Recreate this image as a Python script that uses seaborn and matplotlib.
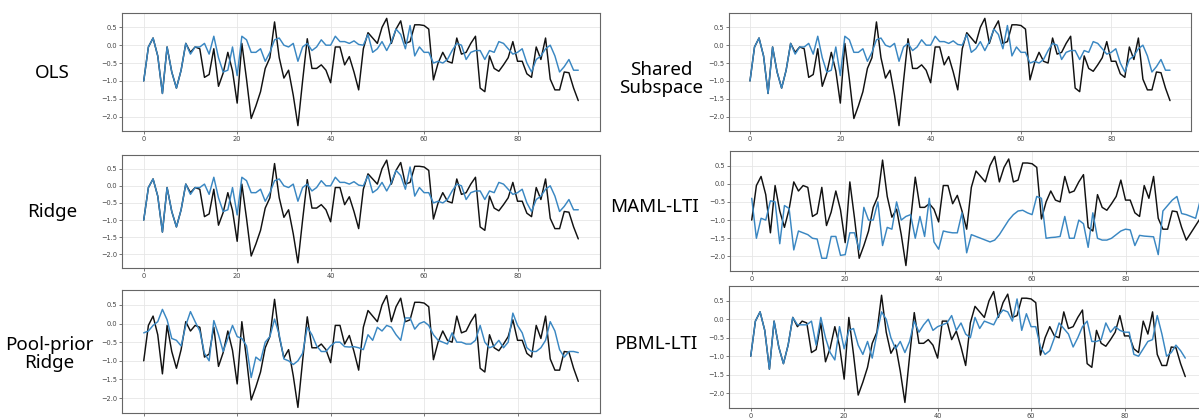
import matplotlib
matplotlib.use("Agg")
import matplotlib.pyplot as plt
import seaborn as sns

# ground truth trajectory (shared by all panels)
TRUTH = [
    -1.0, -0.05, 0.2, -0.3, -1.35, -0.05, -0.75, -1.2, -0.7, 0.05,
    -0.2, -0.05, -0.1, -0.9, -0.82, -0.1, -1.15, -0.78, -0.2, -0.72,
    -1.62, 0.05, -0.95, -2.05, -1.7, -1.3, -0.65, -0.35, 0.65, -0.35,
    -0.92, -0.7, -1.4, -2.25, -1.0, 0.18, -0.65, -0.65, -0.55, -0.7,
    -1.05, -0.05, -0.05, -0.55, -0.32, -0.75, -1.25, -0.1, 0.35, 0.2,
    0.05, 0.5, 0.75, 0.05, 0.45, 0.68, 0.05, 0.1, 0.57, 0.57,
    0.55, 0.45, -0.97, -0.5, -0.2, -0.45, -0.5, 0.2, -0.25, -0.2,
    0.05, 0.25, -1.2, -1.3, -0.3, -0.65, -0.73, -0.55, -0.35, 0.1,
    -0.45, -0.45, -0.8, -0.9, -0.05, -0.4, 0.2, -0.95, -1.25, -1.25,
    -0.75, -0.77, -1.2, -1.55,
]
MAML_TRUTH_TAIL = [-1.35, -1.15, -0.95]

OLS_PRED = [
    -1.0, -0.05, 0.2, -0.3, -1.35, -0.05, -0.75, -1.2, -0.7, 0.05,
    -0.25, -0.05, -0.05, 0.05, -0.25, 0.25, -0.35, -0.75, -0.7, -0.05,
    -0.85, 0.25, 0.15, -0.2, -0.2, -0.1, -0.45, -0.2, 0.15, 0.2,
    0.0, -0.05, 0.05, -0.45, -0.05, 0.05, -0.15, -0.05, 0.15, 0.0,
    0.0, 0.25, 0.1, 0.1, 0.05, 0.12, 0.02, 0.0, 0.3, -0.2,
    -0.1, 0.1, -0.15, 0.1, 0.45, 0.3, -0.1, 0.55, -0.3, -0.05,
    -0.2, -0.2, -0.5, -0.45, -0.5, -0.4, -0.15, 0.05, 0.0, -0.4,
    -0.2, -0.15, -0.15, -0.4, -0.15, -0.2, 0.1, 0.05, -0.1, -0.25,
    -0.2, -0.1, -0.5, -0.75, -0.4, -0.3, -0.1, 0.0, -0.3, -0.75,
    -0.6, -0.4, -0.7, -0.7,
]
RIDGE_PRED = list(OLS_PRED)
SHARED_PRED = list(OLS_PRED)

POOL_PRED = [
    -0.25, -0.2, -0.05, 0.05, 0.38, 0.1, -0.4, -0.45, -0.6, -0.05,
    0.32, 0.05, -0.2, -0.8, -1.0, 0.08, -0.3, -0.75, -0.4, -0.05,
    -0.35, -0.4, -0.6, -1.45, -0.9, -1.0, -0.5, -0.35, 0.12, -0.3,
    -0.95, -1.0, -1.1, -1.0, -0.8, -0.1, -0.3, -0.6, -0.75, -0.75,
    -0.6, -0.5, -0.5, -0.62, -0.63, -0.62, -0.65, -0.7, -0.3, -0.45,
    -0.1, -0.2, -0.05, -0.1, -0.3, -0.45, 0.15, 0.15, -0.15, 0.0,
    0.05, -0.05, -0.3, -0.45, -0.5, -0.55, -0.25, -0.5, -0.5, -0.55,
    -0.55, -0.45, -0.05, -0.5, -0.65, -0.6, -0.45, -0.65, -0.5, 0.28,
    -0.05, -0.25, -0.65, -0.75, -0.75, -0.65, -0.45, 0.05, -0.2, -0.7,
    -0.9, -0.75, -0.75, -0.78,
]

MAML_PRED = [
    -0.4, -1.5, -0.95, -1.0, -0.47, -0.5, -1.65, -0.6, -0.68, -1.82,
    -1.3, -1.35, -1.4, -1.5, -1.52, -2.05, -2.05, -1.45, -1.45, -1.97,
    -1.95, -1.35, -1.35, -1.82, -0.65, -1.0, -1.0, -0.5, -1.7, -1.2,
    -1.25, -0.5, -1.0, -0.9, -0.85, -1.5, -0.9, -1.45, -0.4, -1.6,
    -1.8, -1.3, -1.33, -1.35, -1.35, -0.8, -1.9, -1.4, -1.45, -1.5,
    -1.55, -1.6, -1.55, -1.4, -1.2, -1.0, -0.85, -0.75, -0.73, -0.8,
    -0.85, -0.35, -0.4, -1.5, -1.48, -1.47, -1.45, -0.9, -1.5, -1.5,
    -1.0, -1.1, -1.75, -0.8, -1.5, -1.55, -1.55, -1.5, -1.4, -1.3,
    -1.25, -1.27, -1.7, -1.42, -1.44, -1.45, -1.46, -1.95, -0.75, -0.6,
    -0.45, -0.35, -0.82, -0.85, -0.9, -0.95, -0.45,
]

PBML_PRED = [
    -1.0, -0.05, 0.2, -0.3, -1.35, -0.05, -0.75, -1.2, -0.7, 0.05,
    -0.15, -0.15, -0.15, -0.05, -0.7, 0.05, -0.5, -0.9, -1.1, -0.2,
    -0.8, -0.3, -0.25, -0.7, -0.95, -0.6, -1.05, -0.4, 0.2, 0.0,
    -0.5, -0.8, -0.6, -0.9, -0.6, -0.05, -0.35, -0.15, 0.0, -0.3,
    -0.2, -0.15, -0.1, 0.1, -0.3, -0.1, -0.4, -0.5, 0.05, -0.25,
    -0.05, -0.1, -0.15, 0.1, 0.25, 0.2, -0.05, 0.55, -0.3, 0.15,
    -0.2, -0.2, -0.75, -0.95, -0.85, -0.5, -0.1, -0.25, -0.4, -0.75,
    -0.5, -0.2, -0.05, -0.6, -0.6, -0.55, -0.1, -0.35, -0.2, -0.3,
    -0.35, -0.35, -0.95, -1.0, -0.8, -0.6, -0.55, 0.1, -0.4, -1.0,
    -0.9, -0.7, -0.85, -1.05,
]

W, H = 1199, 418
BLUE = "#3a87c2"
BLACK = "#111111"

# (label, truth, prediction, left, top, right, bottom, label x, label y) in pixels
panels = [
    ("OLS", TRUTH, OLS_PRED, 122, 13, 600, 131, 52, 73),
    ("Ridge", TRUTH, RIDGE_PRED, 122, 155, 600, 268, 52, 212),
    ("Pool-prior\nRidge", TRUTH, POOL_PRED, 122, 290, 600, 413, 49, 354),
    ("Shared\nSubspace", TRUTH, SHARED_PRED, 729, 13, 1191, 131, 661, 79),
    ("MAML-LTI", TRUTH + MAML_TRUTH_TAIL, MAML_PRED, 730, 151, 1208, 271, 654, 207),
    ("PBML-LTI", TRUTH, PBML_PRED, 729, 286, 1207, 408, 656, 344),
]

sns.set_theme(style="whitegrid")
plt.rcParams["font.family"] = ["DejaVu Sans"]

fig = plt.figure(figsize=(W / 100, H / 100), dpi=100)

for name, truth, pred, l, t, r, b, lx, ly in panels:
    ax = fig.add_axes([l / W, 1 - b / H, (r - l) / W, (b - t) / H])
    sns.lineplot(x=list(range(len(truth))), y=truth, color=BLACK, linewidth=1.05, ax=ax)
    sns.lineplot(x=list(range(len(pred))), y=pred, color=BLUE, linewidth=1.05, ax=ax)
    ax.set_xlim(-4.65, 97.65)
    ax.set_ylim(-2.4, 0.9)
    ax.set_xticks([0, 20, 40, 60, 80])
    ax.set_yticks([0.5, 0.0, -0.5, -1.0, -1.5, -2.0])
    ax.grid(True, color="#e6e6e6", linewidth=0.6)
    ax.tick_params(labelsize=4.8, length=2, width=0.5, pad=1.5,
                   colors="#444444", left=True, bottom=True)
    for s in ax.spines.values():
        s.set_color("#666666")
        s.set_linewidth(0.8)
    ax.set_xlabel("")
    ax.set_ylabel("")
    fig.text(lx / W, 1 - ly / H, name, ha="center", va="center", color="black",
             fontsize=13.5, family=["Noto Sans", "DejaVu Sans"], linespacing=1.05)

fig.savefig("out.png", dpi=100, facecolor="white")
